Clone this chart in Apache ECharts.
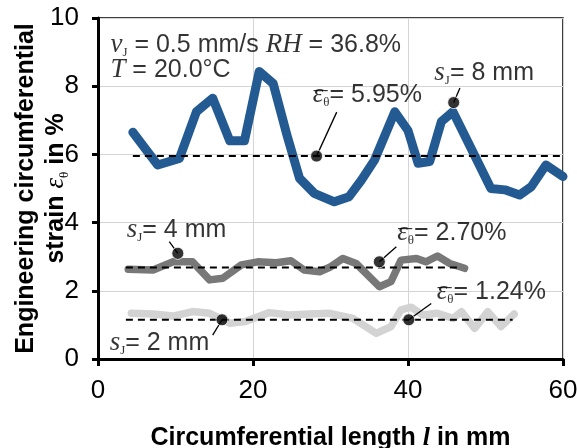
<!DOCTYPE html>
<html><head><meta charset="utf-8">
<script src="https://cdn.jsdelivr.net/npm/echarts@6/dist/echarts.min.js"></script>
<style>html,body{margin:0;padding:0;background:#fff}#c{width:577px;height:448px}</style>
</head><body><div id="c"></div>
<script>
// s_J = 8 mm
const blueX = [4.5, 7.7, 10.5, 12.7, 14.8, 17.0, 18.9, 20.8, 22.6, 24.4, 26.0, 27.9, 30.5, 32.4, 34.0, 35.7, 38.3, 40.0, 41.3, 42.8, 44.3, 45.8, 48.2, 50.7, 52.5, 54.4, 55.9, 57.8, 60.0];
const blueY = [6.65, 5.69, 5.88, 7.25, 7.65, 6.40, 6.40, 8.43, 8.08, 6.55, 5.30, 4.86, 4.61, 4.76, 5.25, 5.84, 7.25, 6.70, 5.74, 5.79, 6.96, 7.25, 6.15, 5.00, 4.96, 4.81, 5.05, 5.69, 5.35];
// s_J = 4 mm
const grayX = [3.9, 7.1, 9.7, 12.2, 14.4, 16.1, 18.5, 20.6, 23.0, 24.9, 26.6, 28.6, 29.9, 31.6, 33.3, 36.3, 37.8, 39.1, 41.1, 42.3, 43.8, 45.4, 47.3];
const grayY = [2.63, 2.61, 2.85, 2.85, 2.32, 2.37, 2.76, 2.85, 2.82, 2.88, 2.61, 2.56, 2.69, 2.95, 2.80, 2.12, 2.27, 2.90, 2.95, 2.85, 3.02, 2.80, 2.66];
// s_J = 2 mm
const lightX = [4.3, 7.1, 9.7, 12.2, 14.4, 17.0, 19.0, 22.1, 24.7, 27.3, 29.9, 32.9, 35.9, 37.8, 39.1, 40.4, 41.9, 43.8, 45.8, 46.9, 48.6, 50.3, 52.0, 53.7];
const lightY = [1.34, 1.32, 1.26, 1.39, 1.34, 1.05, 1.10, 1.36, 1.29, 1.32, 1.34, 1.19, 0.75, 0.95, 1.44, 1.52, 1.29, 1.34, 1.19, 1.39, 0.90, 1.39, 0.95, 1.32];
// mean strain lines
const meanY = [5.95, 2.68, 1.15];
const meanStart = [4.5, 3.6, 3.6];
const meanEnd = [60, 46.9, 53.5];
// marker dots
const dotX = [45.9, 28.2, 10.3, 36.3, 40.1, 16.0];
const dotY = [7.52, 5.95, 3.10, 2.85, 1.15, 1.15];
// leader line ends (label side)
const leadX = [46.7, 30.8, 9.2, 38.5, 43.0, 14.8];
const leadY = [7.95, 7.24, 3.44, 3.29, 1.63, 0.70];
// axis ticks
const xTicks = [0, 20, 40, 60];
const yTicks = [0, 2, 4, 6, 8, 10];

const SANS = '"Liberation Sans", Arial, sans-serif';
const SERIF = '"Liberation Serif", "Times New Roman", serif';
const annotations = [
  {x: 1.6, y: 9.2, t: '{it|v}{sub|J}{n| = 0.5 mm/s }{it|RH}{n| = 36.8%}'},
  {x: 1.6, y: 8.48, t: '{it|T}{n| = 20.0°C}'},
  {x: 43.4, y: 8.39, t: '{it|s}{sub|J}{n|= 8 mm}'},
  {x: 27.7, y: 7.74, t: '{it|ε}{sub|θ}{n|= 5.95%}', bar: true},
  {x: 3.7, y: 3.78, t: '{it|s}{sub|J}{n|= 4 mm}'},
  {x: 38.6, y: 3.69, t: '{it|ε}{sub|θ}{n|= 2.70%}', bar: true},
  {x: 43.7, y: 1.96, t: '{it|ε}{sub|θ}{n|= 1.24%}', bar: true},
  {x: 1.5, y: 0.47, t: '{it|s}{sub|J}{n|= 2 mm}'}
];

const zip = (a, b) => a.map((v, i) => [v, b[i]]);
const rich = {
  n: {fontFamily: SANS, fontSize: 25, color: '#000', lineHeight: 28, verticalAlign: 'middle'},
  it: {fontFamily: SERIF, fontStyle: 'italic', fontSize: 27, color: '#000', lineHeight: 28, verticalAlign: 'middle'},
  sub: {fontFamily: SERIF, fontSize: 13, color: '#000', lineHeight: 14, verticalAlign: 'bottom'},
  o: {fontFamily: SANS, fontSize: 25, color: '#000', lineHeight: 28, verticalAlign: 'middle'}
};

const series = [];
function curve(x, y, color, w) {
  series.push({type: 'line', data: zip(x, y), symbol: 'none', z: 2, silent: true,
    lineStyle: {color: color, width: w, cap: 'round', join: 'round'}});
}
curve(lightX, lightY, '#d3d3d3', 7.5);
curve(grayX, grayY, '#787878', 7.5);
curve(blueX, blueY, '#245a92', 9);
meanY.forEach((m, i) => {
  series.push({type: 'line', data: [[meanStart[i], m], [meanEnd[i], m]], symbol: 'none', z: 3,
    lineStyle: {color: '#000', width: 2, type: [7, 5]}});
});
dotX.forEach((x, i) => {
  series.push({type: 'line', data: [[x, dotY[i]], [leadX[i], leadY[i]]], symbol: 'none', z: 4,
    lineStyle: {color: '#000', width: 1.3}});
});
series.push({type: 'scatter', data: zip(dotX, dotY), symbolSize: 12, z: 5,
  itemStyle: {color: '#000', borderColor: '#fff', borderWidth: 1}});
series.push({type: 'scatter', z: 6, symbolSize: 0,
  data: annotations.map(a => ({value: [a.x, a.y], label: {formatter: a.t}})),
  label: {show: true, position: 'right', distance: 0, align: 'left', verticalAlign: 'middle', rich: rich}});
// overbars of the mean-strain symbol
series.push({type: 'scatter', z: 6, symbolSize: 0,
  data: annotations.filter(a => a.bar).map(a => [a.x, a.y]),
  label: {show: true, position: 'right', distance: 0, offset: [1, 8], align: 'left', verticalAlign: 'middle',
    formatter: '{o|¯}', rich: rich}});

const chart = echarts.init(document.getElementById('c'), null, {renderer: 'canvas'});
chart.setOption({
  animation: false,
  backgroundColor: '#fff',
  grid: {left: 98, right: 14, top: 18, bottom: 89, show: true, borderColor: '#000', borderWidth: 1.5,
    containLabel: false, outerBoundsMode: 'none'},
  xAxis: {
    type: 'value', min: xTicks[0], max: xTicks[xTicks.length - 1], interval: 20,
    axisLine: {show: true, onZero: false, lineStyle: {color: '#000', width: 3}},
    axisTick: {show: true, inside: false, length: 7, lineStyle: {color: '#000', width: 3}},
    axisLabel: {fontFamily: SANS, fontSize: 26, color: '#000', margin: 19, showMaxLabel: true},
    splitLine: {show: true, lineStyle: {color: '#d4d4d4', width: 1}},
    name: 'Circumferential length {i|l} in mm', nameLocation: 'middle', nameGap: 66, nameMoveOverlap: false,
    nameTextStyle: {fontFamily: SANS, fontSize: 25, fontWeight: 'bold', color: '#000',
      rich: {i: {fontFamily: SERIF, fontStyle: 'italic', fontWeight: 'bold', fontSize: 26, color: '#000'}}}
  },
  yAxis: {
    type: 'value', min: yTicks[0], max: yTicks[yTicks.length - 1], interval: 2,
    axisLine: {show: true, onZero: false, lineStyle: {color: '#000', width: 3}},
    axisTick: {show: true, inside: false, length: 6, lineStyle: {color: '#000', width: 3}},
    axisLabel: {fontFamily: SANS, fontSize: 26, color: '#000', margin: 19},
    splitLine: {show: true, lineStyle: {color: '#d4d4d4', width: 1}},
    name: '{b|Engineering circumferential}\n{b|strain }{e|ε}{s|θ}{b| in %}', nameLocation: 'middle', nameRotate: 90,
    nameGap: 27, nameMoveOverlap: false,
    nameTextStyle: {color: '#000', lineHeight: 30,
      rich: {
        b: {fontFamily: SANS, fontSize: 25, fontWeight: 'bold', color: '#000', lineHeight: 30},
        e: {fontFamily: SERIF, fontStyle: 'italic', fontSize: 27, color: '#000', lineHeight: 30},
        s: {fontFamily: SERIF, fontSize: 13, color: '#000', lineHeight: 14, verticalAlign: 'bottom'}
      }}
  },
  series: series
});
</script>
</body></html>
